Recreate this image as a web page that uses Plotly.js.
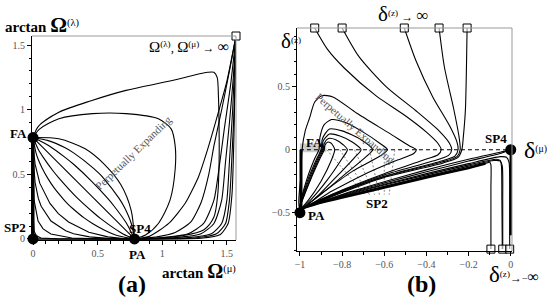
<!DOCTYPE html>
<html><head><meta charset="utf-8">
<script src="https://cdn.plot.ly/plotly-3.0.1.min.js"></script>
<style>body{margin:0;background:#fff}#g{width:554px;height:298px}</style>
</head><body><div id="g"></div>
<script>
// ---------- Panel (a): arctan Omega(mu) vs arctan Omega(lambda) ----------
const aTickVals = [0, 0.5, 1, 1.5];
const aTickText = ['0', '0.5', '1', '1.5'];
const aFA = [0, 0.785], aSP2 = [0, 0], aPA = [0.785, 0], aInf = [1.5708, 1.5708];
const aTop = [[0,0.785],[0.04,0.87],[0.2,0.98],[0.45,1.07],[0.72,1.15],[1.05,1.22],[1.35,1.29],[1.40,1.29],[1.425,1.25],[1.435,1.1],[1.44,0.85],[1.44,0.6],[1.43,0.35],[1.40,0.17],[1.32,0.07],[1.15,0.025],[0.95,0.006],[0.785,0]];
const aLens = [[0,0.785],[0.05,0.85],[0.2,0.93],[0.46,0.97],[0.72,0.97],[0.97,0.93],[1.07,0.85],[1.10,0.72],[1.10,0.54],[1.06,0.30],[0.97,0.12],[0.87,0.03],[0.785,0]];
const aFan0 = [[0,0.785],[0.2,0.775],[0.4,0.70],[0.55,0.58],[0.68,0.42],[0.76,0.22],[0.785,0]];
const aFan1 = [[0,0.785],[0.118,0.761],[0.245,0.707],[0.314,0.666],[0.471,0.545],[0.509,0.509],[0.545,0.471],[0.666,0.314],[0.707,0.245],[0.761,0.118],[0.785,0]];
const aFan2 = [[0,0.785],[0.123,0.722],[0.253,0.628],[0.314,0.578],[0.45,0.45],[0.578,0.314],[0.628,0.253],[0.722,0.123],[0.785,0]];
const aFan3 = [[0,0.785],[0.785,0]];
const aFan4 = [[0,0.785],[0.039,0.697],[0.082,0.628],[0.157,0.524],[0.201,0.471],[0.33,0.33],[0.471,0.201],[0.524,0.157],[0.628,0.082],[0.697,0.039],[0.785,0]];
const aFan5 = [[0,0.785],[0.023,0.667],[0.039,0.619],[0.07,0.55],[0.118,0.463],[0.165,0.393],[0.236,0.307],[0.27,0.27],[0.307,0.236],[0.393,0.165],[0.463,0.118],[0.55,0.07],[0.619,0.039],[0.667,0.023],[0.785,0]];
const aFan6 = [[0,0.785],[0.003,0.70],[0.016,0.579],[0.052,0.432],[0.131,0.275],[0.196,0.196],[0.275,0.131],[0.432,0.052],[0.579,0.016],[0.70,0.003],[0.785,0]];
const aFan7 = [[0,0.785],[0.0024,0.607],[0.016,0.437],[0.041,0.314],[0.063,0.253],[0.139,0.139],[0.253,0.063],[0.314,0.041],[0.437,0.016],[0.607,0.0024],[0.785,0]];
const aFan8 = [[0,0.785],[0.0008,0.501],[0.008,0.30],[0.039,0.138],[0.078,0.078],[0.138,0.039],[0.30,0.008],[0.501,0.0008],[0.785,0]];
const aFan9 = [[0,0.785],[0,0.46],[0.0008,0.185],[0.008,0.062],[0.025,0.025],[0.062,0.008],[0.185,0.0008],[0.46,0],[0.785,0]];
const aEdgeL = [[0,0],[0,0.785]];
const aEdgeB = [[0,0],[0.785,0]];
const aRise1 = [[0.785,0],[0.9,0.02],[1.05,0.12],[1.18,0.28],[1.28,0.48],[1.35,0.69],[1.42,0.93],[1.50,1.22],[1.5708,1.5708]];
const aRise2 = [[0.785,0],[0.95,0.015],[1.1,0.05],[1.22,0.13],[1.30,0.28],[1.36,0.5],[1.40,0.72],[1.46,1.0],[1.52,1.3],[1.5708,1.5708]];
const aRise3 = [[0.785,0],[1.0,0.01],[1.2,0.04],[1.32,0.12],[1.40,0.3],[1.44,0.55],[1.48,0.85],[1.53,1.2],[1.5708,1.5708]];
const aRise4 = [[0.785,0],[1.1,0.01],[1.3,0.04],[1.40,0.12],[1.46,0.3],[1.49,0.6],[1.52,0.9],[1.55,1.25],[1.5708,1.5708]];
const aRise5 = [[0.785,0],[1.2,0.01],[1.38,0.04],[1.46,0.12],[1.50,0.3],[1.52,0.6],[1.545,1.0],[1.5708,1.5708]];
const aRise6 = [[0.785,0],[1.25,0.008],[1.42,0.04],[1.49,0.12],[1.52,0.3],[1.54,0.65],[1.56,1.1],[1.5708,1.5708]];
const aRise7 = [[0.785,0],[1.3,0.006],[1.45,0.035],[1.51,0.12],[1.54,0.35],[1.555,0.8],[1.5708,1.5708]];

// ---------- Panel (b): delta(mu) vs delta(z) ----------
const bXTickVals = [-1, -0.8, -0.6, -0.4, -0.2, 0];
const bXTickText = ['\u22121', '\u22120.8', '\u22120.6', '\u22120.4', '\u22120.2', '0'];
const bYTickVals = [-0.5, 0, 0.5];
const bYTickText = ['\u22120.5', '0', '0.5'];
const bPA = [-1, -0.5], bSP4 = [0, 0];
const bTopSqX = [-0.93, -0.80, -0.505, -0.34, -0.207];
const bTopSqY = [0.968, 0.968, 0.968, 0.968, 0.968];
const bBotSqX = [-0.094, -0.038, -0.005];
const bBotSqY = [-0.79, -0.79, -0.79];
const bT1 = [[-0.93,0.968],[-0.87,0.80],[-0.79,0.65],[-0.64,0.43],[-0.50,0.27],[-0.40,0.14],[-0.345,0.05],[-0.33,0.0],[-0.345,-0.04],[-0.42,-0.085],[-0.6,-0.19],[-0.8,-0.32],[-1,-0.47]];
const bT2 = [[-0.80,0.968],[-0.72,0.74],[-0.59,0.50],[-0.45,0.31],[-0.34,0.15],[-0.29,0.05],[-0.28,0.0],[-0.295,-0.045],[-0.37,-0.09],[-0.6,-0.20],[-0.8,-0.325],[-1,-0.472]];
const bT3 = [[-0.505,0.968],[-0.45,0.71],[-0.37,0.42],[-0.29,0.19],[-0.255,0.06],[-0.25,0.0],[-0.265,-0.05],[-0.34,-0.095],[-0.6,-0.21],[-0.8,-0.33],[-1,-0.475]];
const bT4 = [[-0.34,0.968],[-0.315,0.66],[-0.27,0.32],[-0.245,0.10],[-0.24,0.0],[-0.255,-0.055],[-0.33,-0.10],[-0.6,-0.215],[-0.8,-0.335],[-1,-0.478]];
const bT5 = [[-0.207,0.968],[-0.21,0.66],[-0.215,0.32],[-0.225,0.10],[-0.232,0.0],[-0.25,-0.06],[-0.32,-0.105],[-0.6,-0.22],[-0.8,-0.34],[-1,-0.48]];
const bL1 = [[-1,-0.47],[-0.95,-0.24],[-0.905,-0.07],[-0.885,0.0],[-0.882,0.035],[-0.87,0.06],[-0.855,0.055],[-0.842,0.03],[-0.835,0.0],[-0.85,-0.08],[-0.9,-0.25],[-0.96,-0.4],[-1,-0.47]];
const bL2 = [[-1,-0.47],[-0.955,-0.25],[-0.91,-0.07],[-0.89,0.0],[-0.885,0.05],[-0.865,0.09],[-0.83,0.08],[-0.795,0.04],[-0.775,0.0],[-0.8,-0.07],[-0.87,-0.24],[-0.95,-0.4],[-1,-0.47]];
const bL3 = [[-1,-0.47],[-0.96,-0.25],[-0.915,-0.07],[-0.895,0.0],[-0.89,0.07],[-0.86,0.125],[-0.81,0.11],[-0.75,0.06],[-0.71,0.0],[-0.74,-0.06],[-0.83,-0.22],[-0.93,-0.39],[-1,-0.47]];
const bL4 = [[-1,-0.47],[-0.965,-0.25],[-0.92,-0.07],[-0.90,0.0],[-0.893,0.09],[-0.86,0.165],[-0.80,0.15],[-0.71,0.08],[-0.655,0.0],[-0.69,-0.06],[-0.79,-0.2],[-0.92,-0.38],[-1,-0.47]];
const bL5 = [[-1,-0.47],[-0.97,-0.25],[-0.93,-0.07],[-0.91,0.0],[-0.905,0.10],[-0.885,0.2],[-0.85,0.24],[-0.79,0.22],[-0.70,0.14],[-0.62,0.05],[-0.585,0.0],[-0.62,-0.05],[-0.75,-0.17],[-0.9,-0.35],[-1,-0.47]];
const bL6 = [[-1,-0.47],[-0.995,-0.2],[-0.99,0.0],[-0.975,0.15],[-0.953,0.26],[-0.93,0.38],[-0.896,0.43],[-0.844,0.42],[-0.73,0.29],[-0.575,0.13],[-0.48,0.03],[-0.448,0.0],[-0.46,-0.03],[-0.55,-0.09],[-0.7,-0.2],[-0.85,-0.33],[-1,-0.47]];
const bBand = [[-1,-0.47],[-0.9,-0.42],[-0.8,-0.38],[-0.6,-0.30],[-0.4,-0.22],[-0.2,-0.145],[-0.12,-0.11]];
const bB0 = [[-1,-0.47],[-0.9,-0.42],[-0.8,-0.38],[-0.6,-0.30],[-0.4,-0.22],[-0.2,-0.145],[-0.12,-0.11],[-0.1,-0.10],[-0.094,-0.12],[-0.094,-0.3],[-0.094,-0.79]];
const bB1 = [[-1,-0.47],[-0.8,-0.375],[-0.6,-0.29],[-0.4,-0.21],[-0.2,-0.13],[-0.08,-0.085],[-0.05,-0.09],[-0.04,-0.13],[-0.038,-0.4],[-0.038,-0.79]];
const bB2 = [[-1,-0.47],[-0.8,-0.37],[-0.6,-0.28],[-0.4,-0.20],[-0.2,-0.12],[-0.07,-0.075],[-0.05,-0.085],[-0.044,-0.13],[-0.042,-0.4],[-0.04,-0.79]];
const bB3 = [[-1,-0.47],[-0.8,-0.365],[-0.6,-0.275],[-0.4,-0.19],[-0.2,-0.11],[-0.05,-0.055],[-0.02,-0.06],[-0.008,-0.1],[-0.005,-0.4],[-0.005,-0.79]];
const bB4 = [[-1,-0.47],[-0.8,-0.36],[-0.6,-0.265],[-0.4,-0.175],[-0.2,-0.09],[-0.05,-0.03],[0,0]];
const bB5 = [[-1,-0.47],[-0.8,-0.355],[-0.6,-0.255],[-0.4,-0.16],[-0.2,-0.075],[-0.05,-0.02],[0,0]];
const bEdgeR = [[0,0],[0,-0.68]];
const bEdgeL = [[-0.995,-0.47],[-0.995,0.0]];
const bDash = [[-1,0],[0,0]];
const bSP2Top = [-0.873, -0.811, -0.741, -0.67, -0.60, -0.55];
const bSP2Bot = [-0.693, -0.67, -0.646, -0.623, -0.60, -0.577];
const bSP2Y = [0, -0.357];

// ---------- build ----------
function pts(p) { return {x: p.map(v => v[0]), y: p.map(v => v[1])}; }
const traces = [];
function curve(p, ax, opt) {
  const o = opt || {};
  const d = pts(p);
  traces.push({type:'scatter', mode:'lines', x:d.x, y:d.y, xaxis:ax[0], yaxis:ax[1], hoverinfo:'skip',
    line:{color:o.color||'#000', width:o.width||1.1, shape:o.shape||'spline', smoothing:o.sm===undefined?0.8:o.sm, dash:o.dash||'solid'}});
}
const A = ['x','y'], B = ['x2','y2'];
[aTop, aLens, aFan0, aFan1, aFan2, aFan3, aFan4, aFan5].forEach(c => curve(c, A));
[aFan6, aFan7, aFan8, aFan9].forEach(c => curve(c, A, {shape:'linear'}));
[aRise1, aRise2, aRise3, aRise4, aRise5, aRise6, aRise7].forEach(c => curve(c, A, {sm:0.6}));
curve(aEdgeL, A, {width:3, shape:'linear'});
curve(aEdgeB, A, {width:1.6, shape:'linear'});

curve(bDash, B, {dash:'4px,3px', width:1.2, shape:'linear'});
bSP2Top.forEach((xt, i) => curve([[xt, bSP2Y[0]], [bSP2Bot[i], bSP2Y[1]]], B, {color:'#777', width:0.9, dash:'2px,2px', shape:'linear'}));
[bT1, bT2, bT3, bT4, bT5, bL1, bL2, bL3, bL4, bL5, bL6].forEach(c => curve(c, B, {sm:0.7}));
[bB0, bB1, bB2, bB3, bB4, bB5].forEach(c => curve(c, B, {sm:0.6}));
curve(bBand, B, {width:2.6, sm:0.6});
curve(bEdgeR, B, {width:2.4, shape:'linear'});
curve(bEdgeL, B, {width:3, shape:'linear'});

// markers
traces.push({type:'scatter', mode:'markers', x:[aFA[0], aSP2[0], aPA[0]], y:[aFA[1], aSP2[1], aPA[1]], xaxis:'x', yaxis:'y', cliponaxis:false, hoverinfo:'skip', marker:{color:'#000', size:11}});
traces.push({type:'scatter', mode:'markers', x:[aInf[0]], y:[aInf[1]], xaxis:'x', yaxis:'y', cliponaxis:false, hoverinfo:'skip', marker:{symbol:'square', color:'#fff', size:8, line:{color:'#000', width:1}}});
traces.push({type:'scatter', mode:'markers', x:[bPA[0], bSP4[0]], y:[bPA[1], bSP4[1]], xaxis:'x2', yaxis:'y2', cliponaxis:false, hoverinfo:'skip', marker:{color:'#000', size:11}});
traces.push({type:'scatter', mode:'markers', x:bTopSqX.concat(bBotSqX), y:bTopSqY.concat(bBotSqY), xaxis:'x2', yaxis:'y2', cliponaxis:false, hoverinfo:'skip', marker:{symbol:'square', color:'rgba(255,255,255,0.6)', size:8, line:{color:'#000', width:1}}});

const tf = {family:'Liberation Serif', size:10, color:'#555'};
function axis(extra) {
  return Object.assign({showgrid:false, zeroline:false, showline:true, linecolor:'#000', linewidth:1,
    ticks:'outside', ticklen:4, tickwidth:1, tickcolor:'#000', tickfont:tf, fixedrange:true,
    minor:{tick0:0, dtick:0.1, ticks:'outside', ticklen:2.5, tickwidth:1, tickcolor:'#000'}}, extra);
}
const W = 554, H = 298;
function px(X) { return X / W; }
function py(Y) { return 1 - Y / H; }
const bf = {family:'Liberation Serif', size:13, color:'#000'};
function ann(text, X, Y, opt) {
  const o = opt || {};
  return Object.assign({xref:'paper', yref:'paper', x:px(X), y:py(Y), text:text, showarrow:false,
    xanchor:'center', yanchor:'middle', font:Object.assign({}, bf, o.font || {})}, o.extra || {});
}
const annotations = [
  ann('<b>arctan </b><span style="font-size:21px"><b>\u03A9</b></span><sup>(\u03BB)</sup>', 3, 25, {font:{size:15}, extra:{xanchor:'left'}}),
  ann('<span style="font-size:15px">\u03A9</span><sup>(\u03BB)</sup>, <span style="font-size:15px">\u03A9</span><sup>(\u03BC)</sup> <span style="font-size:12px">\u2192</span> <span style="font-size:16px">\u221E</span>', 189, 47, {font:{size:13}}),
  ann('<b>FA</b>', 18, 133),
  ann('<b>SP2</b>', 15, 227),
  ann('<b>SP4</b>', 140, 229),
  ann('<b>PA</b>', 137, 254),
  ann('<b>arctan </b><span style="font-size:20px"><b>\u03A9</b></span><sup>(\u03BC)</sup>', 160, 271, {font:{size:15}, extra:{xanchor:'left'}}),
  ann('<b>(a)</b>', 132, 284, {font:{size:24}}),
  ann('Perpetually Expanding', 133, 153, {font:{size:11, color:'#555'}, extra:{textangle:-44}}),
  ann('<span style="font-size:21px">\u03B4</span><sup>(z)</sup> <span style="font-size:12px">\u2192</span> <span style="font-size:17px">\u221E</span>', 403, 14, {font:{size:13}}),
  ann('<span style="font-size:21px">\u03B4</span><sup>(z)</sup>', 291, 41, {font:{size:13}}),
  ann('<b>FA</b>', 314, 142),
  ann('<b>SP4</b>', 496, 139),
  ann('<span style="font-size:24px">\u03B4</span><sup>(\u03BC)</sup>', 535, 150, {font:{size:14}}),
  ann('<b>PA</b>', 316, 215),
  ann('<b>SP2</b>', 377, 203),
  ann('<span style="font-size:23px">\u03B4</span><sup>(z)</sup><span style="font-size:12px">\u2192</span><span style="font-size:10px">\u2212</span><span style="font-size:16px">\u221E</span>', 514, 274, {font:{size:13}}),
  ann('<b>(b)</b>', 421, 284, {font:{size:24}}),
  ann('Perpetually Expanding', 355, 128, {font:{size:11, color:'#555'}, extra:{textangle:41}})
];
const frame = (xa, ya) => [
  {type:'line', xref:xa + ' domain', yref:ya + ' domain', x0:0, x1:1, y0:1, y1:1, line:{color:'#999', width:1}},
  {type:'line', xref:xa + ' domain', yref:ya + ' domain', x0:1, x1:1, y0:0, y1:1, line:{color:'#999', width:1}}
];
const shapes = frame('x', 'y').concat(frame('x2', 'y2')).concat([
  {type:'rect', xref:'x2', yref:'y2', x0:-1, x1:-0.875, y0:-0.02, y1:0.05, fillcolor:'rgba(140,140,140,0.45)', line:{width:0}, layer:'below'}
]);
const layout = {
  width:W, height:H, margin:{l:0, r:0, t:0, b:0}, paper_bgcolor:'#fff', plot_bgcolor:'rgba(0,0,0,0)', showlegend:false,
  font:{family:'Liberation Serif', color:'#000'},
  xaxis: axis({domain:[px(32), px(236)], range:[-0.008, 1.5708], tickvals:aTickVals, ticktext:aTickText, anchor:'y'}),
  yaxis: axis({domain:[py(240), py(36)], range:[-0.008, 1.5708], tickvals:aTickVals, ticktext:aTickText, anchor:'x'}),
  xaxis2: axis({domain:[px(297), px(512)], range:[-1.014, 0.006], tickvals:bXTickVals, ticktext:bXTickText, anchor:'y2'}),
  yaxis2: axis({domain:[py(251), py(28)], range:[-0.805, 0.968], tickvals:bYTickVals, ticktext:bYTickText, anchor:'x2'}),
  annotations: annotations, shapes: shapes
};
Plotly.newPlot('g', traces, layout, {staticPlot:true, displayModeBar:false});
</script></body></html>
